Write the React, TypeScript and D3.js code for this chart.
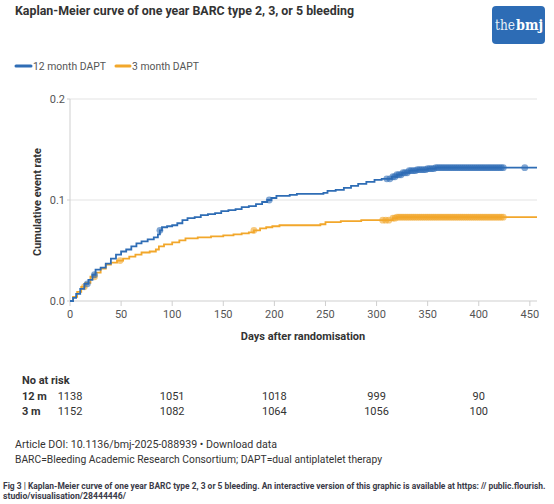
import React, { useLayoutEffect, useRef, useState } from "react"
import * as d3 from "d3"

// Kaplan-Meier steps: [day, cumulative event rate]
const twelveMonthSteps: [number, number][] = [
  [0, 0], [3, 0.003], [6, 0.007], [10, 0.012], [14, 0.017], [18, 0.021], [22, 0.026],
  [25, 0.031], [30, 0.033], [35, 0.037], [40, 0.042], [45, 0.046], [50, 0.049],
  [55, 0.051], [60, 0.054], [65, 0.057], [70, 0.059], [76, 0.061], [82, 0.063],
  [86, 0.066], [88, 0.07], [90, 0.073], [95, 0.074], [100, 0.075], [105, 0.077],
  [110, 0.08], [115, 0.082], [122, 0.083], [128, 0.085], [135, 0.086], [142, 0.087],
  [148, 0.089], [155, 0.09], [162, 0.091], [168, 0.093], [175, 0.094], [182, 0.096],
  [188, 0.098], [193, 0.1], [197, 0.102], [202, 0.104], [215, 0.105], [222, 0.106],
  [248, 0.107], [252, 0.109], [260, 0.11], [268, 0.112], [275, 0.114], [282, 0.116],
  [290, 0.118], [298, 0.12], [305, 0.121], [315, 0.123], [320, 0.125], [325, 0.127],
  [332, 0.129], [340, 0.13], [350, 0.131], [358, 0.132], [457, 0.132],
]

const threeMonthSteps: [number, number][] = [
  [0, 0], [3, 0.004], [7, 0.009], [11, 0.014], [15, 0.018], [20, 0.024], [25, 0.028],
  [30, 0.032], [35, 0.036], [40, 0.038], [46, 0.04], [52, 0.042], [58, 0.044],
  [64, 0.046], [70, 0.048], [78, 0.049], [84, 0.051], [87, 0.054], [92, 0.056],
  [100, 0.058], [107, 0.06], [113, 0.062], [125, 0.063], [138, 0.064], [150, 0.065],
  [160, 0.066], [168, 0.067], [175, 0.068], [180, 0.07], [186, 0.072], [192, 0.073],
  [198, 0.074], [205, 0.075], [245, 0.076], [250, 0.078], [265, 0.079], [285, 0.08],
  [316, 0.082], [320, 0.083], [457, 0.083],
]

// censored observations (the thick band is many overlapping marks)
const lateCensorDays = [
  318, 320, 322, 324, 326, 328, 330, 332, 334, 336, 338, 340, 342, 344, 346, 348,
  350, 352, 354, 356, 358, 360, 362, 364, 366, 368, 370, 372, 374, 376, 378, 380,
  382, 384, 386, 388, 390, 392, 394, 396, 398, 400, 402, 404, 406, 408, 410, 412,
  414, 416, 418, 420, 422, 424,
]
const twelveMonthCensors = [17, 24, 88, 195, 310, 313, 316, ...lateCensorDays, 445]
const threeMonthCensors = [14, 24, 49, 180, 306, 309, 312, 316, ...lateCensorDays]

const xTicks = [0, 50, 100, 150, 200, 250, 300, 350, 400, 450]
const yTicks = [0, 0.1, 0.2]

const riskDays = [0, 100, 200, 300, 400]
const riskTwelve = [1138, 1051, 1018, 999, 90]
const riskThree = [1152, 1082, 1064, 1056, 100]

const BLUE = "#2f6db5"
const ORANGE = "#f2a72b"
const FONT = "Roboto, 'Open Sans', sans-serif"

const x = d3.scaleLinear().domain([0, 457]).range([70, 537])
const y = d3.scaleLinear().domain([0, 0.2]).range([301, 99])

const line = d3
  .line<[number, number]>()
  .x(d => x(d[0]))
  .y(d => y(d[1]))
  .curve(d3.curveStepAfter)

function valueAt(steps: [number, number][], day: number) {
  const i = d3.bisector((d: [number, number]) => d[0]).right(steps, day) - 1
  return steps[Math.max(0, i)][1]
}

function Curve({ steps, censors, color }: { steps: [number, number][]; censors: number[]; color: string }) {
  return (
    <g>
      <path d={line(steps) || ""} fill="none" stroke={color} strokeWidth={1.8} />
      {censors.map((c, i) => (
        <circle key={i} cx={x(c)} cy={y(valueAt(steps, c))} r={3.4} fill={color} fillOpacity={0.6} />
      ))}
    </g>
  )
}

export default function App() {
  // caption font is very condensed: squeeze it horizontally to the reference width
  const capRef = useRef<SVGTextElement>(null)
  const [capScale, setCapScale] = useState(0.77)
  useLayoutEffect(() => {
    if (!capRef.current) return
    const w = capRef.current.getComputedTextLength()
    if (w > 0) setCapScale(542 / w)
  }, [])

  return (
    <svg width={554} height={504} style={{ position: "absolute", left: 0, top: 0, fontFamily: FONT }}>
      <rect width={554} height={504} fill="#fff" />

      <text x={15} y={15} fontSize={12.5} fontWeight={700} fill="#333" textLength={339} lengthAdjust="spacingAndGlyphs">
        Kaplan-Meier curve of one year BARC type 2, 3, or 5 bleeding
      </text>

      <rect x={492} y={6} width={53} height={38} rx={4} fill="#2d6cb5" />
      <g fontSize={14} fill="#fff" fontFamily="'DejaVu Serif', serif">
        <text x={495} y={30} textLength={20} lengthAdjust="spacingAndGlyphs" fontWeight={300} fillOpacity={0.9}>the</text>
        <text x={516} y={30} textLength={27} lengthAdjust="spacingAndGlyphs" fontWeight={700}>bmj</text>
      </g>

      <g fontSize={11} fill="#555">
        <line x1={16} x2={31} y1={66} y2={66} stroke={BLUE} strokeWidth={3} strokeLinecap="round" />
        <text x={33} y={70} textLength={73} lengthAdjust="spacingAndGlyphs">12 month DAPT</text>
        <line x1={116} x2={130} y1={66} y2={66} stroke={ORANGE} strokeWidth={3} strokeLinecap="round" />
        <text x={132} y={70} textLength={67} lengthAdjust="spacingAndGlyphs">3 month DAPT</text>
      </g>

      {yTicks.slice(1).map(t => (
        <line key={t} x1={70} x2={537} y1={y(t)} y2={y(t)} stroke="#e3e3e3" />
      ))}
      <line x1={70} x2={70} y1={99} y2={301} stroke="#cfcfcf" />
      <line x1={70} x2={537} y1={301} y2={301} stroke="#cfcfcf" />
      {yTicks.map(t => (
        <g key={t}>
          <line x1={67} x2={70} y1={y(t)} y2={y(t)} stroke="#cfcfcf" />
          <text x={65} y={y(t)} dy="0.35em" textAnchor="end" fontSize={11} fill="#555">
            {t.toFixed(1)}
          </text>
        </g>
      ))}
      {xTicks.map(t => (
        <g key={t}>
          <line x1={x(t)} x2={x(t)} y1={301} y2={306} stroke="#cfcfcf" />
          <text x={x(t)} y={318} textAnchor="middle" fontSize={11} fill="#555">
            {t}
          </text>
        </g>
      ))}

      <text x={303} y={340} textAnchor="middle" fontSize={11} fontWeight={700} fill="#333">
        Days after randomisation
      </text>
      <text transform="translate(41,202) rotate(-90)" textAnchor="middle" fontSize={11} fontWeight={700} fill="#333">
        Cumulative event rate
      </text>

      <Curve steps={threeMonthSteps} censors={threeMonthCensors} color={ORANGE} />
      <Curve steps={twelveMonthSteps} censors={twelveMonthCensors} color={BLUE} />

      <g fontSize={11} fill="#333">
        <text x={22} y={384} fontWeight={700}>No at risk</text>
        <text x={22} y={400} fontWeight={700}>12 m</text>
        <text x={22} y={415} fontWeight={700}>3 m</text>
        {riskDays.map((d, i) => (
          <g key={d}>
            <text x={x(d)} y={400} textAnchor="middle">{riskTwelve[i]}</text>
            <text x={x(d)} y={415} textAnchor="middle">{riskThree[i]}</text>
          </g>
        ))}
      </g>

      <g fontSize={11} fill="#333">
        <text x={15} y={448} textLength={262} lengthAdjust="spacingAndGlyphs">
          Article DOI: 10.1136/bmj-2025-088939 • Download data
        </text>
        <text x={15} y={463} textLength={367} lengthAdjust="spacingAndGlyphs">
          BARC=Bleeding Academic Research Consortium; DAPT=dual antiplatelet therapy
        </text>
      </g>

      <g fontSize={8.6} fontWeight={700} fill="#3a3a48">
        <g transform={`translate(3,489) scale(${capScale},1)`}>
          <text ref={capRef} x={0} y={0}>
            Fig 3 | Kaplan-Meier curve of one year BARC type 2, 3 or 5 bleeding. An interactive version of this graphic is available at https: // public.flourish.
          </text>
        </g>
        <text x={3} y={499} textLength={123} lengthAdjust="spacingAndGlyphs">
          studio/visualisation/28444446/
        </text>
      </g>
    </svg>
  )
}
